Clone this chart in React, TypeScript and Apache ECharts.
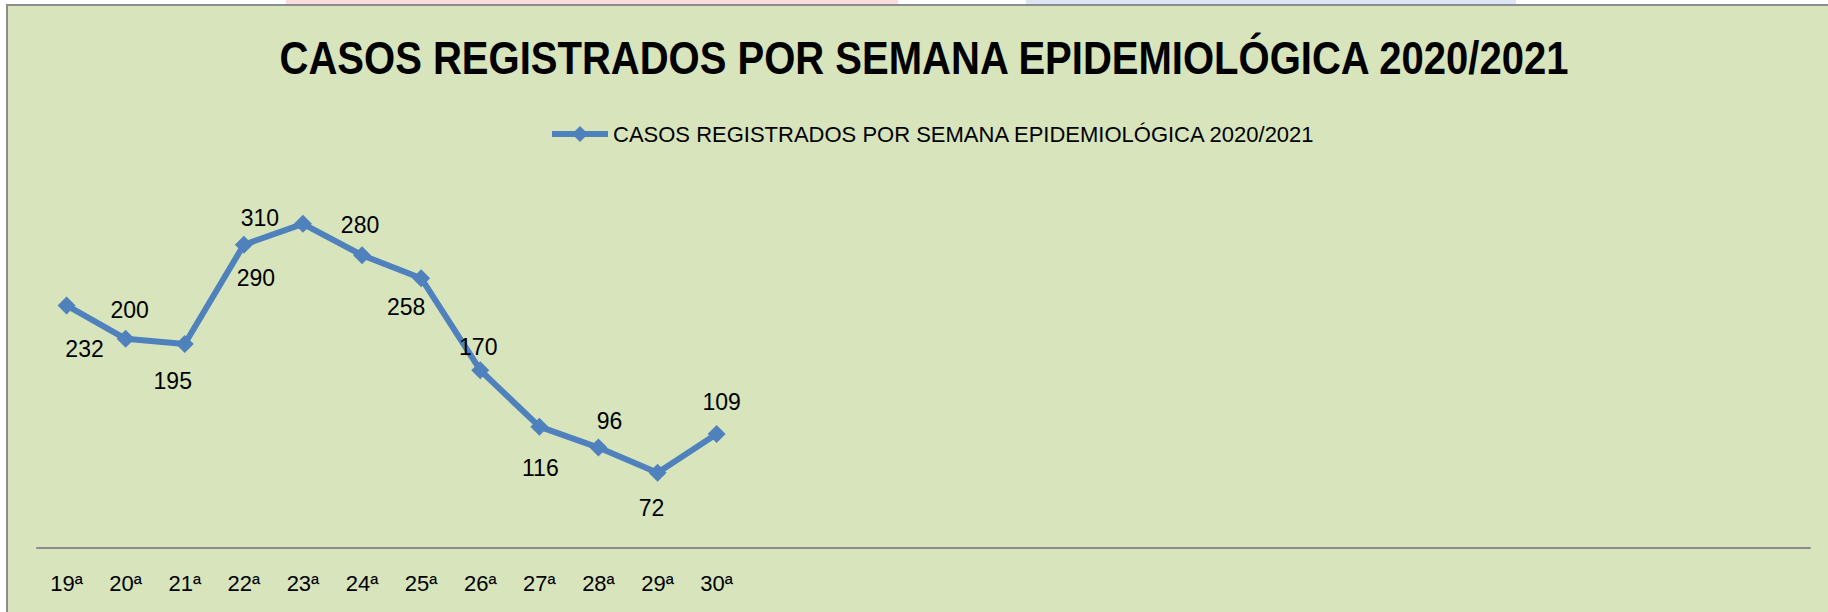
import React, { useEffect, useRef } from "react";
import * as echarts from "echarts";

const titleText = "CASOS REGISTRADOS POR SEMANA EPIDEMIOLÓGICA 2020/2021";
const seriesName = "CASOS REGISTRADOS POR SEMANA EPIDEMIOLÓGICA 2020/2021";
const weeks = ["19ª", "20ª", "21ª", "22ª", "23ª", "24ª", "25ª", "26ª", "27ª", "28ª", "29ª", "30ª"];
const emptySlots = 18;
const cases = [232, 200, 195, 290, 310, 280, 258, 170, 116, 96, 72, 109];
const yMax = 350;

// label offsets (px) from each marker, as placed in the reference
const labelOffsets: [number, number][] = [
  [18, 44], [4, -29], [-12, 37], [12, 33], [-43, -6], [-2, -30],
  [-15, 29], [-2, -23], [1, 41], [11, -27], [-6, 35], [5, -32],
];

export default function App() {
  const ref = useRef<HTMLDivElement>(null);
  useEffect(() => {
    if (!ref.current) return;
    const chart = echarts.init(ref.current, null, { renderer: "svg" });
    const categories = [...weeks, ...Array(emptySlots).fill("")];
    const font = "'Liberation Sans', Arial, sans-serif";
    chart.setOption({
      animation: false,
      backgroundColor: "#ffffff",
      graphic: [
        { type: "rect", shape: { x: 286, y: 0, width: 612, height: 5 }, style: { fill: "#F9DCDC" }, z: -10 },
        { type: "rect", shape: { x: 1026, y: 0, width: 490, height: 5 }, style: { fill: "#DDE4F3" }, z: -10 },
        {
          type: "rect",
          shape: { x: 7, y: 5, width: 1880, height: 640 },
          style: { fill: "#D7E4BC", stroke: "#8C8C8C", lineWidth: 2 },
          z: -5,
        },
        {
          type: "text",
          x: 924,
          y: 58,
          scaleX: 0.87,
          z: 10,
          style: {
            text: titleText,
            align: "center",
            verticalAlign: "middle",
            fontFamily: font,
            fontWeight: "bold",
            fontSize: 46,
            fill: "#000000",
          },
        },
      ],
      legend: {
        left: 544,
        top: 118,
        itemWidth: 56,
        itemHeight: 20,
        itemGap: 10,
        lineStyle: { width: 6 },
        textStyle: { fontFamily: font, fontSize: 22, color: "#000000" },
        data: [seriesName],
      },
      grid: { left: 37, right: 18, top: 182, bottom: 64, containLabel: false },
      xAxis: {
        type: "category",
        data: categories,
        boundaryGap: true,
        axisLine: { show: true, lineStyle: { color: "#8C8C8C", width: 2 } },
        axisTick: { show: false },
        axisLabel: { interval: 0, margin: 24, fontFamily: font, fontSize: 22, color: "#000000" },
        splitLine: { show: false },
      },
      yAxis: {
        type: "value",
        min: 0,
        max: yMax,
        show: false,
        splitLine: { show: false },
      },
      series: [
        {
          name: seriesName,
          type: "line",
          data: cases.map((v, i) => ({
            value: v,
            label: { offset: labelOffsets[i] },
          })),
          symbol: "diamond",
          symbolSize: 18,
          lineStyle: { color: "#4F81BD", width: 6 },
          itemStyle: { color: "#4F81BD" },
          label: {
            show: true,
            position: "inside",
            align: "center",
            verticalAlign: "middle",
            fontFamily: font,
            fontSize: 23,
            color: "#000000",
          },
        },
      ],
    });
    return () => chart.dispose();
  }, []);
  return (
    <div
      ref={ref}
      style={{ position: "absolute", left: 0, top: 0, width: 1828, height: 612 }}
    />
  );
}
